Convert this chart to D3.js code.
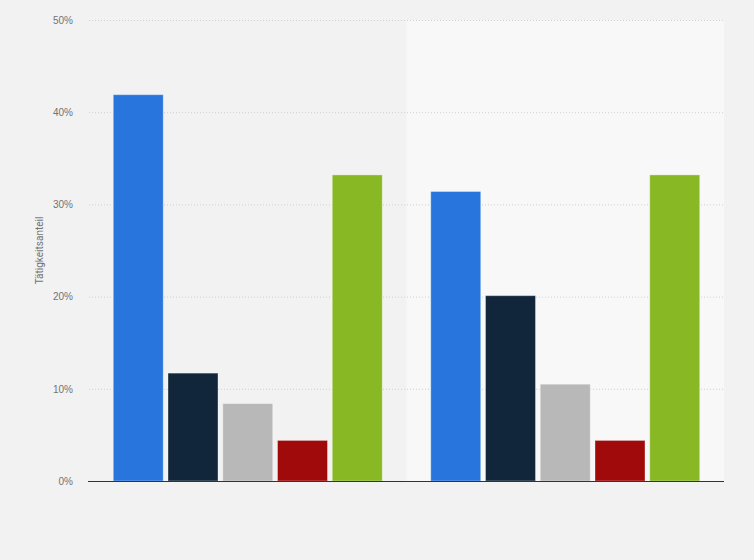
<!DOCTYPE html>
<html>
<head>
<meta charset="utf-8">
<script src="https://cdn.jsdelivr.net/npm/d3@7.9.0/dist/d3.min.js"></script>
<style>
  html, body { margin: 0; padding: 0; background: #f2f2f2; }
  svg { display: block; font-family: Roboto, "Liberation Sans", Arial, sans-serif; }
</style>
</head>
<body>
<svg id="chart" width="754" height="560"></svg>
<script>
// data
const groups = ['Gruppe 1', 'Gruppe 2'];
const series = ['Serie 1', 'Serie 2', 'Serie 3', 'Serie 4', 'Serie 5'];
const group1Values = [41.9, 11.7, 8.4, 4.4, 33.2];
const group2Values = [31.4, 20.1, 10.5, 4.4, 33.2];
const yTicks = [0, 10, 20, 30, 40, 50];
const colors = ['#2876dd', '#12263b', '#b8b8b8', '#a10a0a', '#88b823'];
const yLabel = 'Tätigkeitsanteil';

const values = [group1Values, group2Values];

const svg = d3.select('#chart');
const margin = { top: 20, right: 30, bottom: 79, left: 89 };
const width = 754 - margin.left - margin.right;
const height = 560 - margin.top - margin.bottom;

const g = svg.append('g').attr('transform', `translate(${margin.left},${margin.top})`);

const x0 = d3.scaleBand().domain(groups).range([0, width]).padding(0);
const x1 = d3.scaleBand().domain(series).range([0, x0.bandwidth()])
  .paddingInner(0.087).paddingOuter(0.443);
const y = d3.scaleLinear().domain([0, 50]).range([height, 0]);

// highlighted second band
g.append('rect')
  .attr('x', x0(groups[1]))
  .attr('y', 0)
  .attr('width', x0.bandwidth())
  .attr('height', height)
  .attr('fill', '#f8f8f8');

// gridlines + tick labels
const yAxis = d3.axisLeft(y).tickValues(yTicks).tickFormat((d) => d + '%')
  .tickSize(-width).tickPadding(16);
const axisG = g.append('g').call(yAxis);
axisG.select('.domain').remove();
axisG.selectAll('.tick line')
  .attr('stroke', '#cfcfcf')
  .attr('stroke-dasharray', '1,2');
axisG.selectAll('.tick text')
  .attr('fill', '#727272')
  .attr('font-size', '10px');

// bars
groups.forEach((grp, gi) => {
  const bg = g.append('g').attr('transform', `translate(${x0(grp)},0)`);
  bg.selectAll('rect')
    .data(values[gi])
    .join('rect')
    .attr('x', (d, i) => x1(series[i]))
    .attr('y', (d) => y(d))
    .attr('width', x1.bandwidth())
    .attr('height', (d) => y(0) - y(d))
    .attr('fill', (d, i) => colors[i])
    .attr('stroke', 'rgba(255,255,255,0.35)')
    .attr('stroke-width', 1);
});

// baseline
g.append('line')
  .attr('x1', -1).attr('x2', width)
  .attr('y1', y(0) + 0.5).attr('y2', y(0) + 0.5)
  .attr('stroke', '#333').attr('stroke-width', 1);

// y axis title
svg.append('text')
  .attr('transform', `translate(43,${margin.top + y(25)}) rotate(-90)`)
  .attr('text-anchor', 'middle')
  .attr('fill', '#727272')
  .attr('font-size', '10px')
  .text(yLabel);
</script>
</body>
</html>
